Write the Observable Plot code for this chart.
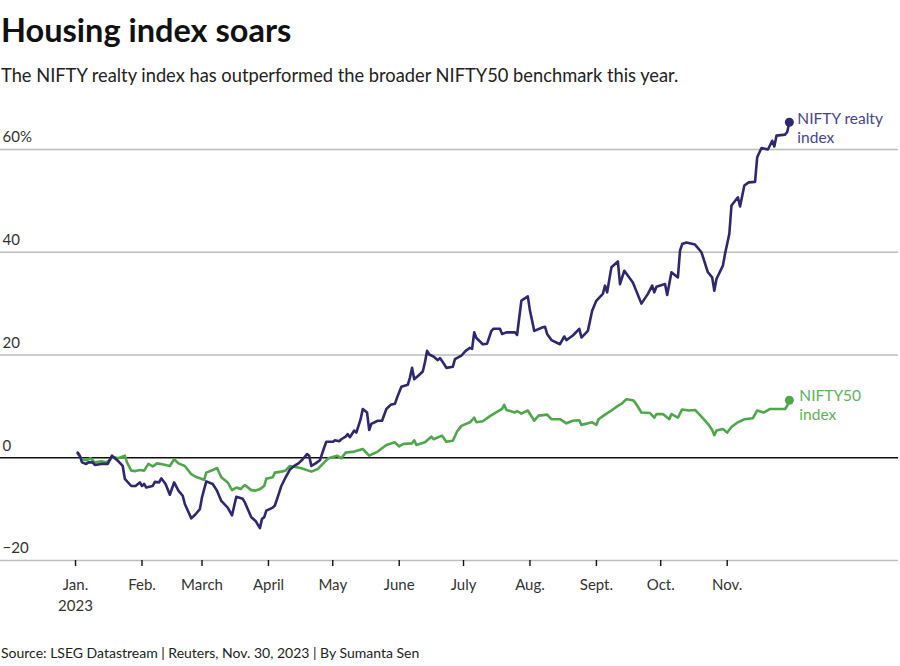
<!DOCTYPE html>
<html>
<head>
<meta charset="utf-8">
<script src="https://cdn.jsdelivr.net/npm/d3@7"></script>
<script src="https://cdn.jsdelivr.net/npm/@observablehq/plot@0.6"></script>
<style>
  body { margin: 0; background: #fff; font-family: Lato, "Noto Sans", sans-serif; color: #111; }
  #page { width: 900px; position: relative; }
  #header { position: relative; height: 100px; }
  #title { position: absolute; left: 1px; top: 10px; font-weight: 700; font-size: 32.5px; line-height: normal; color: #111; white-space: nowrap; }
  #subtitle { position: absolute; left: 1px; top: 64px; font-size: 18.3px; line-height: normal; color: #222; white-space: nowrap; }
  #chart svg { display: block; }
  #source { margin-top: 18px; padding-left: 1px; font-size: 14px; line-height: 20px; color: #222; white-space: nowrap; }
</style>
</head>
<body>
<div id="page">
  <div id="header">
    <div id="title">Housing index soars</div>
    <div id="subtitle">The NIFTY realty index has outperformed the broader NIFTY50 benchmark this year.</div>
  </div>
  <div id="chart"></div>
  <div id="source">Source: LSEG Datastream | Reuters, Nov. 30, 2023 | By Sumanta Sen</div>
</div>
<script>
// ---- Data (percent change since start of 2023) ----
const realtyDates = ["2023-01-02","2023-01-03","2023-01-04","2023-01-06","2023-01-07","2023-01-09","2023-01-10","2023-01-13","2023-01-16","2023-01-18","2023-01-21","2023-01-23","2023-01-24","2023-01-27","2023-01-29","2023-01-31","2023-02-01","2023-02-02","2023-02-03","2023-02-06","2023-02-07","2023-02-09","2023-02-10","2023-02-12","2023-02-14","2023-02-16","2023-02-18","2023-02-20","2023-02-21","2023-02-24","2023-02-26","2023-02-28","2023-03-01","2023-03-03","2023-03-06","2023-03-08","2023-03-10","2023-03-13","2023-03-15","2023-03-17","2023-03-20","2023-03-21","2023-03-24","2023-03-26","2023-03-28","2023-03-29","2023-03-30","2023-03-31","2023-04-03","2023-04-04","2023-04-06","2023-04-07","2023-04-09","2023-04-11","2023-04-13","2023-04-15","2023-04-17","2023-04-19","2023-04-20","2023-04-21","2023-04-23","2023-04-25","2023-04-27","2023-04-28","2023-05-01","2023-05-02","2023-05-04","2023-05-05","2023-05-07","2023-05-08","2023-05-09","2023-05-11","2023-05-12","2023-05-14","2023-05-15","2023-05-17","2023-05-18","2023-05-19","2023-05-22","2023-05-24","2023-05-26","2023-05-28","2023-05-30","2023-05-31","2023-06-02","2023-06-05","2023-06-06","2023-06-07","2023-06-08","2023-06-10","2023-06-12","2023-06-13","2023-06-14","2023-06-15","2023-06-17","2023-06-19","2023-06-20","2023-06-22","2023-06-23","2023-06-26","2023-06-27","2023-06-30","2023-07-02","2023-07-04","2023-07-05","2023-07-06","2023-07-07","2023-07-10","2023-07-12","2023-07-14","2023-07-15","2023-07-18","2023-07-19","2023-07-21","2023-07-25","2023-07-26","2023-07-27","2023-07-28","2023-07-31","2023-08-01","2023-08-03","2023-08-07","2023-08-08","2023-08-09","2023-08-11","2023-08-15","2023-08-17","2023-08-18","2023-08-21","2023-08-24","2023-08-25","2023-08-28","2023-08-30","2023-09-01","2023-09-04","2023-09-05","2023-09-06","2023-09-08","2023-09-11","2023-09-12","2023-09-14","2023-09-18","2023-09-22","2023-09-25","2023-09-27","2023-09-28","2023-09-29","2023-10-03","2023-10-04","2023-10-06","2023-10-09","2023-10-10","2023-10-11","2023-10-13","2023-10-17","2023-10-20","2023-10-23","2023-10-25","2023-10-26","2023-10-27","2023-10-30","2023-10-31","2023-11-02","2023-11-03","2023-11-06","2023-11-07","2023-11-09","2023-11-11","2023-11-14","2023-11-15","2023-11-17","2023-11-20","2023-11-22","2023-11-23","2023-11-24","2023-11-28","2023-11-29","2023-11-30"];
const realtyValues = [1.0,0.4,-0.9,-1.2,-0.9,-0.9,-1.4,-1.2,-1.2,0.4,-0.7,-1.6,-4.1,-5.5,-5.5,-4.8,-5.5,-5.1,-5.8,-5.5,-4.7,-4.8,-4.0,-5.1,-7.2,-4.8,-6.4,-7.4,-9.0,-11.8,-11.0,-10.0,-7.7,-4.6,-5.1,-6.4,-8.4,-9.7,-11.2,-7.6,-8.0,-8.7,-11.6,-12.3,-13.7,-11.9,-11.6,-10.3,-9.7,-9.3,-6.8,-5.5,-3.8,-2.3,-1.6,-1.1,-0.3,0.7,0.4,-1.6,-1.1,-0.5,2.0,3.1,3.1,3.4,3.2,3.6,4.1,4.6,4.0,5.3,4.9,7.5,9.5,8.8,5.4,6.6,7.2,7.2,9.5,10.3,10.5,11.7,13.8,14.2,15.6,17.5,15.3,16.0,16.8,18.6,20.8,20.1,19.7,19.0,19.4,18.2,17.5,17.7,19.2,19.9,20.8,21.4,21.2,24.4,23.3,22.1,22.2,24.7,25.1,25.1,24.1,24.4,24.4,23.9,27.3,30.6,31.4,28.6,24.7,25.4,25.5,24.1,22.9,22.1,23.6,22.9,23.8,25.1,23.4,24.7,28.6,30.6,31.9,33.5,32.2,37.1,38.2,33.8,36.4,34.1,30.0,31.9,33.5,32.2,33.3,33.8,31.7,36.1,35.1,40.3,41.6,41.9,41.5,40.0,36.1,35.1,32.5,34.8,37.4,39.7,43.6,49.1,50.7,48.9,53.0,53.6,53.7,58.5,60.3,60.0,61.7,60.6,62.7,62.9,63.4,65.3];

const niftyDates = ["2023-01-02","2023-01-04","2023-01-06","2023-01-08","2023-01-10","2023-01-13","2023-01-15","2023-01-17","2023-01-18","2023-01-21","2023-01-24","2023-01-25","2023-01-27","2023-01-29","2023-01-31","2023-02-02","2023-02-04","2023-02-06","2023-02-08","2023-02-11","2023-02-14","2023-02-16","2023-02-18","2023-02-21","2023-02-24","2023-02-26","2023-02-28","2023-03-02","2023-03-03","2023-03-06","2023-03-08","2023-03-10","2023-03-13","2023-03-15","2023-03-17","2023-03-19","2023-03-21","2023-03-24","2023-03-26","2023-03-28","2023-03-30","2023-03-31","2023-04-03","2023-04-04","2023-04-07","2023-04-09","2023-04-11","2023-04-16","2023-04-21","2023-04-24","2023-04-27","2023-04-29","2023-05-03","2023-05-05","2023-05-07","2023-05-11","2023-05-15","2023-05-18","2023-05-22","2023-05-26","2023-05-30","2023-06-01","2023-06-03","2023-06-07","2023-06-08","2023-06-09","2023-06-13","2023-06-16","2023-06-17","2023-06-21","2023-06-23","2023-06-26","2023-06-28","2023-06-30","2023-07-04","2023-07-06","2023-07-07","2023-07-10","2023-07-13","2023-07-16","2023-07-19","2023-07-20","2023-07-21","2023-07-25","2023-07-26","2023-07-28","2023-07-31","2023-08-03","2023-08-05","2023-08-09","2023-08-11","2023-08-15","2023-08-18","2023-08-21","2023-08-24","2023-08-25","2023-08-30","2023-09-01","2023-09-02","2023-09-05","2023-09-08","2023-09-11","2023-09-13","2023-09-15","2023-09-18","2023-09-19","2023-09-22","2023-09-26","2023-09-28","2023-09-29","2023-10-02","2023-10-05","2023-10-06","2023-10-09","2023-10-11","2023-10-14","2023-10-17","2023-10-20","2023-10-23","2023-10-25","2023-10-26","2023-10-27","2023-10-30","2023-11-01","2023-11-03","2023-11-06","2023-11-09","2023-11-13","2023-11-15","2023-11-18","2023-11-21","2023-11-25","2023-11-28","2023-11-29","2023-11-30"];
const niftyValues = [0.8,-0.3,-0.5,-0.1,-0.9,-0.7,-0.9,-0.5,0.2,-0.1,0.4,-0.9,-2.5,-2.6,-2.4,-2.5,-1.2,-1.7,-1.1,-1.3,-1.6,-0.3,-1.1,-1.6,-3.2,-3.7,-4.0,-4.3,-2.9,-2.4,-2.0,-3.8,-4.8,-6.3,-5.8,-6.1,-5.3,-6.3,-6.4,-6.1,-5.5,-4.1,-3.8,-2.9,-2.7,-2.5,-1.6,-2.0,-2.7,-2.2,-0.9,-0.1,0.4,-0.1,1.0,1.2,1.7,0.4,1.2,2.5,3.0,2.2,2.7,2.8,3.4,2.5,3.0,4.1,3.6,4.3,3.1,3.3,5.1,6.2,6.9,7.8,6.9,7.1,8.0,8.8,9.5,10.3,9.3,8.8,9.1,8.6,9.2,7.2,8.2,8.4,7.5,7.5,6.7,7.2,7.3,6.4,6.9,6.4,7.5,8.4,9.2,10.1,10.6,11.4,11.2,10.8,8.8,8.7,7.8,8.5,8.5,7.5,8.5,7.8,9.4,9.2,9.3,8.0,6.6,5.4,4.4,5.3,5.6,4.9,6.0,6.9,7.5,7.7,9.2,8.8,9.5,9.5,9.5,10.1,11.2];

const seriesNames = ["NIFTY realty\nindex", "NIFTY50\nindex"];
const monthTicks = ["2023-01-01","2023-02-01","2023-03-01","2023-04-01","2023-05-01","2023-06-01","2023-07-01","2023-08-01","2023-09-01","2023-10-01","2023-11-01"];
const monthLabels = ["Jan.\n2023","Feb.","March","April","May","June","July","Aug.","Sept.","Oct.","Nov."];
const yTicks = [-20, 0, 20, 40, 60];
const yLabels = ["\u221220", "0", "20", "40", "60%"];

// ---- Build tables ----
const parse = d3.utcParse("%Y-%m-%d");
const realty = realtyDates.map((d, i) => ({date: parse(d), value: realtyValues[i]}));
const nifty = niftyDates.map((d, i) => ({date: parse(d), value: niftyValues[i]}));
const tickDates = monthTicks.map(parse);
const tickLabelMap = new Map(tickDates.map((d, i) => [+d, monthLabels[i]]));
const yLabelMap = new Map(yTicks.map((d, i) => [d, yLabels[i]]));

const purple = "#2e2870";
const purpleText = "#4a4390";
const green = "#4fa64b";
const greenText = "#5cb25a";

const chart = Plot.plot({
  width: 900,
  height: 525,
  marginTop: 49,
  marginBottom: 65,
  marginLeft: 0,
  marginRight: 2,
  x: {type: "utc", domain: [new Date(Date.UTC(2022, 10, 27)), new Date(Date.UTC(2024, 0, 19, 22))]},
  y: {domain: [-20, 60], axis: null},
  style: {fontFamily: "Lato, 'Noto Sans', sans-serif", fontSize: "15px", background: "#fff", overflow: "visible"},
  marks: [
    Plot.ruleY(yTicks.filter(d => d !== 0), {stroke: "#bcbcbc", strokeWidth: 1.4}),
    Plot.ruleY([0], {stroke: "#111", strokeWidth: 1.6}),
    Plot.text(yTicks, {y: d => d, text: d => yLabelMap.get(d), frameAnchor: "left", textAnchor: "start", dx: 2, dy: -12, fill: "#333", fontSize: 15}),
    Plot.axisX({ticks: tickDates, tickFormat: d => tickLabelMap.get(+d), tickSize: 6, tickPadding: 9, stroke: "#111", strokeWidth: 1.4, fill: "#333", fontSize: 15, lineHeight: 1.4}),
    Plot.line(nifty, {x: "date", y: "value", stroke: green, strokeWidth: 2.6, strokeLinejoin: "round"}),
    Plot.line(realty, {x: "date", y: "value", stroke: purple, strokeWidth: 2.6, strokeLinejoin: "round"}),
    Plot.dot([nifty[nifty.length - 1]], {x: "date", y: "value", r: 4.5, fill: green}),
    Plot.dot([realty[realty.length - 1]], {x: "date", y: "value", r: 4.5, fill: purple}),
    Plot.text([realty[realty.length - 1]], {x: "date", y: "value", text: () => seriesNames[0], dx: 8, dy: -12, textAnchor: "start", lineAnchor: "top", fill: purpleText, fontSize: 15.5, lineHeight: 1.25}),
    Plot.text([nifty[nifty.length - 1]], {x: "date", y: "value", text: () => seriesNames[1], dx: 10, dy: -13, textAnchor: "start", lineAnchor: "top", fill: greenText, fontSize: 15.5, lineHeight: 1.25})
  ]
});
document.getElementById("chart").appendChild(chart);
</script>
</body>
</html>
